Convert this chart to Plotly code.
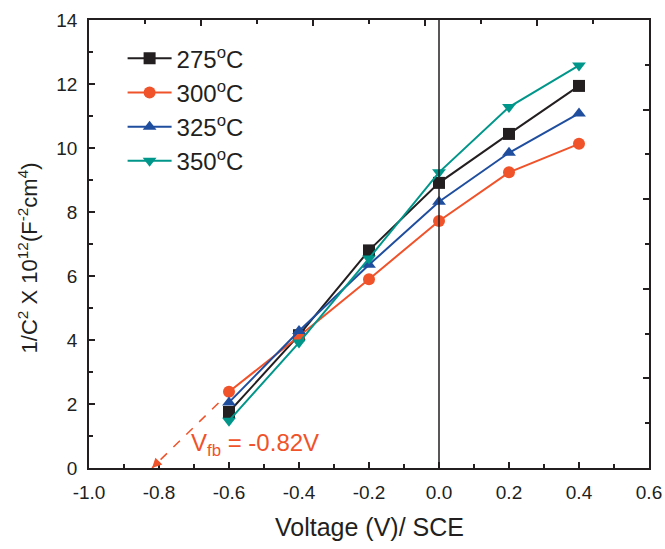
import plotly.graph_objects as go

voltage = [-0.6, -0.4, -0.2, 0.0, 0.2, 0.4]
s275 = [1.75, 4.15, 6.80, 8.91, 10.44, 11.94]
s300 = [2.38, 4.12, 5.90, 7.72, 9.24, 10.13]
s325 = [2.05, 4.28, 6.35, 8.32, 9.85, 11.08]
s350 = [1.48, 3.92, 6.55, 9.24, 11.28, 12.58]
labels = ["275<sup>o</sup>C", "300<sup>o</sup>C", "325<sup>o</sup>C", "350<sup>o</sup>C"]
x_tickvals = [-1.0, -0.8, -0.6, -0.4, -0.2, 0.0, 0.2, 0.4, 0.6]
x_ticktext = ["-1.0", "-0.8", "-0.6", "-0.4", "-0.2", "0.0", "0.2", "0.4", "0.6"]
top_tickvals = [-1.0, -0.68, -0.36, -0.04, 0.28, 0.6]
right_tickvals = [0, 2.8, 5.6, 8.4, 11.2, 14]
colors = ["#231f20", "#f0522a", "#1f4e9f", "#00968a"]
symbols = ["square", "circle", "triangle-up", "triangle-down"]
vfb = -0.82
dash_start = [-0.63, 2.03]

fig = go.Figure()
for ys, lab, c, sym in zip([s275, s300, s325, s350], labels, colors, symbols):
    fig.add_trace(go.Scatter(x=voltage, y=ys, name=lab, mode="lines+markers",
                             line=dict(color=c, width=2),
                             marker=dict(symbol=sym, size=12, color=c)))

# dummy trace to activate top/right axes
fig.add_trace(go.Scatter(x=[-1.0], y=[0], xaxis="x2", yaxis="y2", mode="markers",
                         marker=dict(size=1, opacity=0), showlegend=False, hoverinfo="skip"))

# dashed extrapolation
fig.add_trace(go.Scatter(x=[dash_start[0], vfb], y=[dash_start[1], 0], mode="lines",
                         line=dict(color="#f0522a", width=1.5, dash="dash"),
                         showlegend=False, hoverinfo="skip"))
fig.add_annotation(x=vfb, y=0, ax=vfb + 0.02, ay=0.22, xref="x", yref="y",
                   axref="x", ayref="y", showarrow=True, arrowhead=2, arrowsize=1.3,
                   arrowwidth=1.5, arrowcolor="#f0522a", text="")
fig.add_annotation(x=-0.715, y=0.72, xref="x", yref="y", showarrow=False,
                   text="V<sub>fb</sub> = -0.82V", xanchor="left",
                   font=dict(size=24, color="#f0522a"))
# axis titles
fig.add_annotation(x=-0.109, y=0.47, xref="paper", yref="paper", showarrow=False,
                   text="1/C<sup>2</sup> X 10<sup>12</sup>(F<sup>-2</sup>cm<sup>4</sup>)",
                   textangle=-90, xanchor="center", yanchor="middle",
                   font=dict(size=22, color="#231f20"))
fig.add_annotation(x=0.5, y=-0.132, xref="paper", yref="paper", showarrow=False,
                   text="Voltage (V)/ SCE", xanchor="center", yanchor="middle",
                   font=dict(size=25, color="#231f20"))

tick_common = dict(ticks="inside", ticklen=6, tickwidth=1.5, tickcolor="#231f20",
                   showline=True, linecolor="#231f20", linewidth=1.5,
                   showgrid=False, zeroline=False, automargin=False)
fig.update_layout(
    xaxis=dict(range=[-1.0, 0.6], tickvals=x_tickvals, ticktext=x_ticktext,
               minor=dict(ticks="inside", ticklen=4, dtick=0.1, tickcolor="#231f20", tickwidth=1.5),
               tickfont=dict(size=19, color="#231f20"), ticklabelstandoff=6,
               **tick_common),
    yaxis=dict(range=[0, 14], dtick=2,
               minor=dict(ticks="inside", ticklen=4, dtick=1, tickcolor="#231f20", tickwidth=1.5),
               tickfont=dict(size=19, color="#231f20"), ticklabelstandoff=6,
               **tick_common),
    xaxis2=dict(overlaying="x", side="top", anchor="y2", range=[-1.0, 0.6],
                tickvals=top_tickvals, showticklabels=False,
                minor=dict(ticks="inside", ticklen=4, dtick=0.16, tick0=-1.0,
                           tickcolor="#231f20", tickwidth=1.5),
                **tick_common),
    yaxis2=dict(overlaying="y", side="right", anchor="x2", range=[0, 14],
                tickvals=right_tickvals, showticklabels=False,
                minor=dict(ticks="inside", ticklen=4, dtick=1.4, tick0=0,
                           tickcolor="#231f20", tickwidth=1.5),
                **tick_common),
)
fig.add_shape(type="line", x0=0, x1=0, y0=0, y1=14, xref="x", yref="y",
              line=dict(color="#231f20", width=1.5))

fig.update_layout(width=665, height=549, plot_bgcolor="white", paper_bgcolor="white",
                  margin=dict(l=89, r=16, t=20, b=81),
                  font=dict(family="Liberation Sans, Arial, sans-serif"),
                  legend=dict(x=0.06, y=0.964, xanchor="left", yanchor="top",
                              bgcolor="rgba(0,0,0,0)", font=dict(size=24, color="#231f20"),
                              tracegroupgap=0, itemwidth=44))
fig.write_html("out.html", post_script="document.body.style.margin='0';",
               config={"displayModeBar": False})
